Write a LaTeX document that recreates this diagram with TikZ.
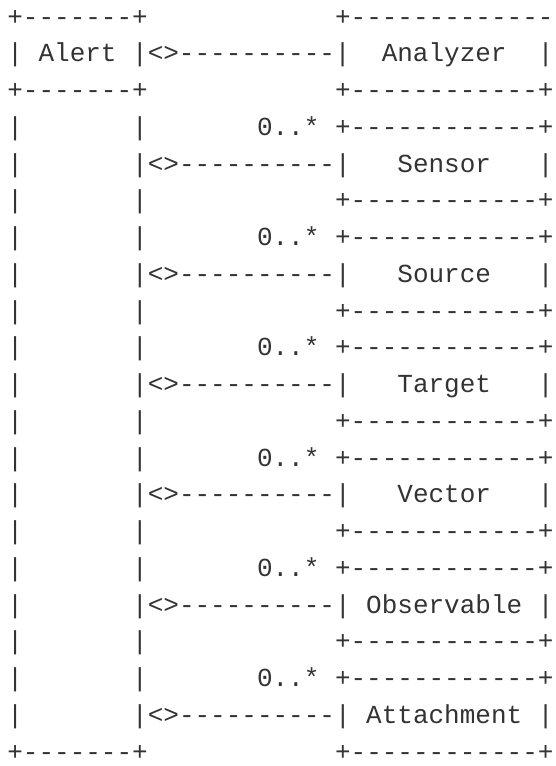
\documentclass[tikz,border=0pt]{standalone}
\usepackage{fontspec}
\setmonofont{Liberation Mono}
\usepackage{tikz}
\definecolor{asciigray}{HTML}{333333}

\begin{document}
\begin{tikzpicture}[x=1pt,y=1pt]
\tikzstyle{every node}+=[inner sep=0pt]
\tikzstyle{asciirow}=[anchor=base west, text=asciigray, font=\fontsize{26}{31}\ttfamily]
\useasboundingbox (0,0) rectangle (556,-766);
\node [asciirow] (row1) at (7.2,-25) {+-------+~~~~~~~~~~~~+-------------};
\node [asciirow] (row2) at (7.2,-61.75) {|~Alert~|<>----------|~~Analyzer~~|};
\node [asciirow] (row3) at (7.2,-98.5) {+-------+~~~~~~~~~~~~+------------+};
\node [asciirow] (row4) at (7.2,-135.25) {|~~~~~~~|~~~~~~~0..*~+------------+};
\node [asciirow] (row5) at (7.2,-172) {|~~~~~~~|<>----------|~~~Sensor~~~|};
\node [asciirow] (row6) at (7.2,-208.75) {|~~~~~~~|~~~~~~~~~~~~+------------+};
\node [asciirow] (row7) at (7.2,-245.5) {|~~~~~~~|~~~~~~~0..*~+------------+};
\node [asciirow] (row8) at (7.2,-282.25) {|~~~~~~~|<>----------|~~~Source~~~|};
\node [asciirow] (row9) at (7.2,-319) {|~~~~~~~|~~~~~~~~~~~~+------------+};
\node [asciirow] (row10) at (7.2,-355.75) {|~~~~~~~|~~~~~~~0..*~+------------+};
\node [asciirow] (row11) at (7.2,-392.5) {|~~~~~~~|<>----------|~~~Target~~~|};
\node [asciirow] (row12) at (7.2,-429.25) {|~~~~~~~|~~~~~~~~~~~~+------------+};
\node [asciirow] (row13) at (7.2,-466) {|~~~~~~~|~~~~~~~0..*~+------------+};
\node [asciirow] (row14) at (7.2,-502.75) {|~~~~~~~|<>----------|~~~Vector~~~|};
\node [asciirow] (row15) at (7.2,-539.5) {|~~~~~~~|~~~~~~~~~~~~+------------+};
\node [asciirow] (row16) at (7.2,-576.25) {|~~~~~~~|~~~~~~~0..*~+------------+};
\node [asciirow] (row17) at (7.2,-613) {|~~~~~~~|<>----------|~Observable~|};
\node [asciirow] (row18) at (7.2,-649.75) {|~~~~~~~|~~~~~~~~~~~~+------------+};
\node [asciirow] (row19) at (7.2,-686.5) {|~~~~~~~|~~~~~~~0..*~+------------+};
\node [asciirow] (row20) at (7.2,-723.25) {|~~~~~~~|<>----------|~Attachment~|};
\node [asciirow] (row21) at (7.2,-760) {+-------+~~~~~~~~~~~~+------------+};
\end{tikzpicture}
\end{document}
